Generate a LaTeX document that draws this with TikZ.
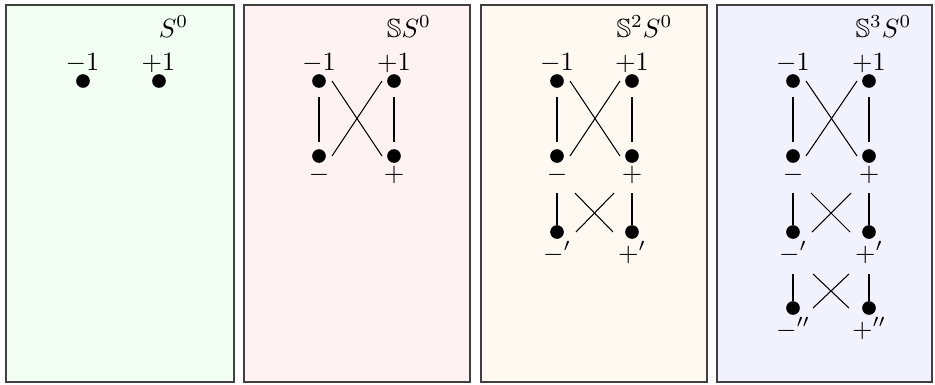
\documentclass[tikz,border=0pt]{standalone}
\usepackage{amssymb}
\usetikzlibrary{calc}
\definecolor{pgreen}{RGB}{242,255,242}
\definecolor{pred}{RGB}{255,242,242}
\definecolor{porange}{RGB}{255,249,242}
\definecolor{pblue}{RGB}{242,242,255}
\tikzset{
  panel/.style={draw=black!75, line width=0.45pt},
  pt/.style={circle, fill=black, inner sep=0pt, minimum size=5.2pt},
  lab/.style={anchor=base, inner sep=0pt},
  ttl/.style={anchor=base, inner sep=0pt},
  conn/.style={line width=0.4pt},
}
\begin{document}
\begin{tikzpicture}[x=0.38pt, y=-0.38pt]
\useasboundingbox (0,0) rectangle (935,384);
% panels
\path[panel, fill=pgreen]  (6,5) rectangle (234,382);
\path[panel, fill=pred]    (244,5) rectangle (470,382);
\path[panel, fill=porange] (481,5) rectangle (707,382);
\path[panel, fill=pblue]   (717,5) rectangle (932,382);
% titles
\node[ttl] (t1) at (173.5,37) {$S^0$};
\node[ttl] (t2) at (409,37) {$\mathbb{S}S^0$};
\node[ttl] (t3) at (644.5,37) {$\mathbb{S}^2S^0$};
\node[ttl] (t4) at (883.5,37) {$\mathbb{S}^3S^0$};
% ---- panel 1
\node[pt] (a1) at (83,81) {};
\node[pt] (b1) at (159,81) {};
\node[lab] (la1) at (82.5,70.5) {$-1$};
\node[lab] (lb1) at (158.5,70.5) {$+1$};
% ---- panel 2
\node[pt] (a2) at (319,81) {};
\node[pt] (b2) at (394,81) {};
\node[pt] (c2) at (319,156) {};
\node[pt] (d2) at (394,156) {};
\node[lab] (la2) at (319,70.5) {$-1$};
\node[lab] (lb2) at (394,70.5) {$+1$};
\node[lab] (lc2) at (319,181) {$-$};
\node[lab] (ld2) at (394,181) {$+$};
\draw[conn] ($(a2)+(0,16)$) -- ($(c2)+(0,-14)$);
\draw[conn] ($(b2)+(0,16)$) -- ($(d2)+(0,-14)$);
\draw[conn] ($(a2)+(13,0)$) -- ($(d2)+(-12,0)$);
\draw[conn] ($(b2)+(-12,0)$) -- ($(c2)+(13,0)$);
% ---- panel 3
\node[pt] (a3) at (557,81) {};
\node[pt] (b3) at (632,81) {};
\node[pt] (c3) at (557,156) {};
\node[pt] (d3) at (632,156) {};
\node[pt] (e3) at (557,232) {};
\node[pt] (f3) at (632,232) {};
\node[lab] (la3) at (557,70.5) {$-1$};
\node[lab] (lb3) at (632,70.5) {$+1$};
\node[lab] (lc3) at (557,181) {$-$};
\node[lab] (ld3) at (632,181) {$+$};
\node[lab] (le3) at (557,261) {$-'$};
\node[lab] (lf3) at (632,261) {$+'$};
\draw[conn] ($(a3)+(0,16)$) -- ($(c3)+(0,-14)$);
\draw[conn] ($(b3)+(0,16)$) -- ($(d3)+(0,-14)$);
\draw[conn] ($(a3)+(13,0)$) -- ($(d3)+(-12,0)$);
\draw[conn] ($(b3)+(-12,0)$) -- ($(c3)+(13,0)$);
\draw[conn] ($(c3)+(0,37)$) -- (e3);
\draw[conn] ($(d3)+(0,37)$) -- (f3);
\draw[conn] ($(c3)+(18,37)$) -- ($(f3)+(-19,0)$);
\draw[conn] ($(d3)+(-18,37)$) -- ($(e3)+(19,0)$);
% ---- panel 4
\node[pt] (a4) at (793,81) {};
\node[pt] (b4) at (869,81) {};
\node[pt] (c4) at (793,156) {};
\node[pt] (d4) at (869,156) {};
\node[pt] (e4) at (793,232) {};
\node[pt] (f4) at (869,232) {};
\node[pt] (g4) at (793,308) {};
\node[pt] (h4) at (869,308) {};
\node[lab] (la4) at (793,70.5) {$-1$};
\node[lab] (lb4) at (869,70.5) {$+1$};
\node[lab] (lc4) at (793,181) {$-$};
\node[lab] (ld4) at (869,181) {$+$};
\node[lab] (le4) at (793,261) {$-'$};
\node[lab] (lf4) at (869,261) {$+'$};
\node[lab] (lg4) at (793,337) {$-''$};
\node[lab] (lh4) at (869,337) {$+''$};
\draw[conn] ($(a4)+(0,16)$) -- ($(c4)+(0,-14)$);
\draw[conn] ($(b4)+(0,16)$) -- ($(d4)+(0,-14)$);
\draw[conn] ($(a4)+(13,0)$) -- ($(d4)+(-12,0)$);
\draw[conn] ($(b4)+(-12,0)$) -- ($(c4)+(13,0)$);
\draw[conn] ($(c4)+(0,37)$) -- (e4);
\draw[conn] ($(d4)+(0,37)$) -- (f4);
\draw[conn] ($(c4)+(18,37)$) -- ($(f4)+(-19,0)$);
\draw[conn] ($(d4)+(-18,37)$) -- ($(e4)+(19,0)$);
\draw[conn] ($(e4)+(0,42)$) -- (g4);
\draw[conn] ($(f4)+(0,42)$) -- (h4);
\draw[conn] ($(e4)+(20,42)$) -- ($(h4)+(-20,0)$);
\draw[conn] ($(f4)+(-20,42)$) -- ($(g4)+(20,0)$);
\end{tikzpicture}
\end{document}
